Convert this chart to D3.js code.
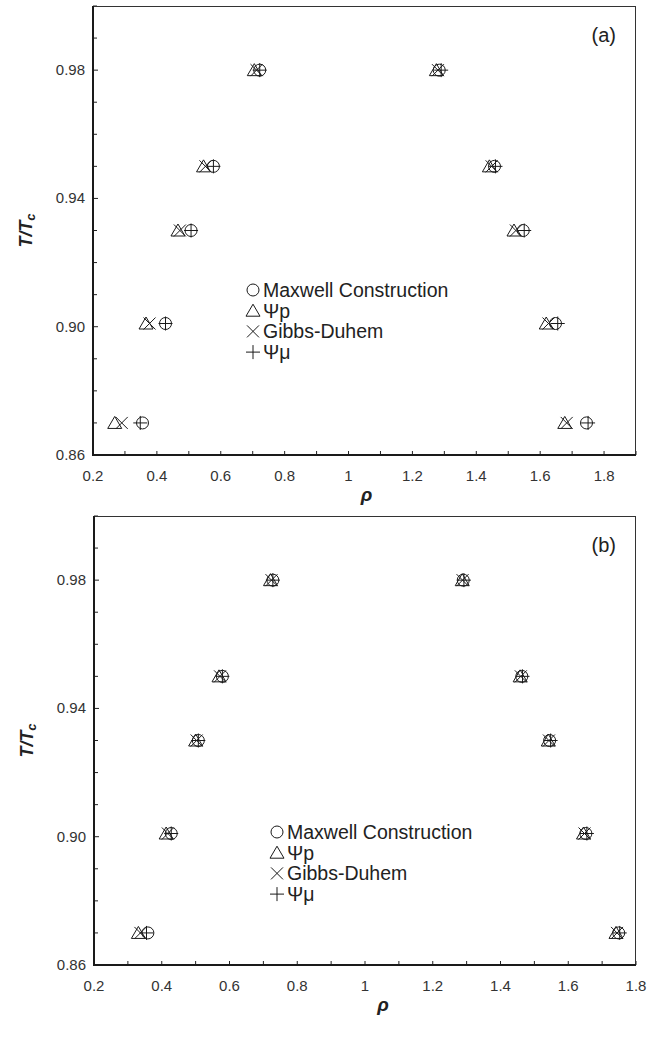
<!DOCTYPE html>
<html>
<head>
<meta charset="utf-8">
<script src="https://cdn.jsdelivr.net/npm/d3@7"></script>
<style>
  body { margin: 0; background: #fff; }
  svg { display: block; font-family: "Liberation Sans", Arial, sans-serif; }
  .tick-label { font-size: 15px; fill: #333; }
  .legend-text { font-size: 19.5px; fill: #222; }
</style>
</head>
<body>
<script>
// reduced temperatures (rows of points)
var tLevels = [0.87, 0.901, 0.93, 0.95, 0.98];

// panel (a): coexisting densities, gas branch (left) and liquid branch (right)
var maxwellA_gas = [0.355, 0.427, 0.507, 0.577, 0.722];
var maxwellA_liq = [1.745, 1.648, 1.547, 1.457, 1.284];
var psiRhoA_gas = [0.268, 0.366, 0.466, 0.546, 0.705];
var psiRhoA_liq = [1.677, 1.619, 1.518, 1.441, 1.275];
var gibbsA_gas = [0.290, 0.377, 0.472, 0.552, 0.712];
var gibbsA_liq = [1.683, 1.626, 1.524, 1.448, 1.280];
var psiMuA_gas = [0.348, 0.427, 0.507, 0.577, 0.722];
var psiMuA_liq = [1.750, 1.655, 1.550, 1.460, 1.290];

// panel (b)
var maxwellB_gas = [0.359, 0.428, 0.508, 0.579, 0.728];
var maxwellB_liq = [1.749, 1.652, 1.545, 1.463, 1.290];
var psiRhoB_gas = [0.331, 0.413, 0.500, 0.569, 0.721];
var psiRhoB_liq = [1.741, 1.645, 1.541, 1.458, 1.287];
var gibbsB_gas = [0.337, 0.418, 0.503, 0.572, 0.724];
var gibbsB_liq = [1.744, 1.648, 1.543, 1.460, 1.288];
var psiMuB_gas = [0.355, 0.428, 0.508, 0.579, 0.728];
var psiMuB_liq = [1.752, 1.655, 1.548, 1.465, 1.292];

// legend entries and axis ticks
var seriesNames = ["Maxwell Construction", "\u03A8p", "Gibbs-Duhem", "\u03A8\u03BC"];
var seriesShapes = ["circle", "triangle", "times", "plus"];
var yTickLabels = [0.86, 0.90, 0.94, 0.98];
var xTickLabels = [0.2, 0.4, 0.6, 0.8, 1, 1.2, 1.4, 1.6, 1.8];

var svg = d3.select("body").append("svg")
    .attr("width", 648)
    .attr("height", 1053);

// marker paths, centred on 0,0
function markerPath(shape) {
  var p = d3.path();
  if (shape == "circle") {
    p.moveTo(6, 0); p.arc(0, 0, 6, 0, 2 * Math.PI);
  } else if (shape == "triangle") {
    p.moveTo(0, -6.5); p.lineTo(7, 5.5); p.lineTo(-7, 5.5); p.closePath();
  } else if (shape == "times") {
    p.moveTo(-6, -6); p.lineTo(6, 6); p.moveTo(6, -6); p.lineTo(-6, 6);
  } else {
    p.moveTo(-7, 0); p.lineTo(7, 0); p.moveTo(0, -7); p.lineTo(0, 7);
  }
  return p.toString();
}

function drawPanel(cfg) {
  var width = cfg.width, height = cfg.height;
  var g = svg.append("g").attr("transform", "translate(" + cfg.left + "," + cfg.top + ")");

  var x = d3.scaleLinear().domain(cfg.xDomain).range([0, width]),
      y = d3.scaleLinear().domain([0.86, 1.0]).range([height, 0]);

  // x axis: inward ticks every 0.1
  var xMinor = d3.range(Math.round(cfg.xDomain[0] * 10), Math.round(cfg.xDomain[1] * 10) + 1).map(function(d) { return d / 10; });
  g.append("g")
      .attr("transform", "translate(0," + height + ")")
      .selectAll("line").data(xMinor).enter().append("line")
      .attr("x1", function(d) { return x(d); })
      .attr("x2", function(d) { return x(d); })
      .attr("y1", 0).attr("y2", -4)
      .attr("stroke", "#222").attr("stroke-width", 1);
  g.append("g").selectAll("text").data(xTickLabels).enter().append("text")
      .attr("class", "tick-label")
      .attr("x", function(d) { return x(d); })
      .attr("y", height + 26)
      .attr("text-anchor", "middle")
      .text(function(d) { return d; });

  // y axis: inward ticks every 0.01
  var yMinor = d3.range(86, 101).map(function(d) { return d / 100; });
  g.append("g").selectAll("line").data(yMinor).enter().append("line")
      .attr("x1", 0)
      .attr("x2", function(d) { return yTickLabels.indexOf(d) >= 0 ? 5 : 4; })
      .attr("y1", function(d) { return y(d); })
      .attr("y2", function(d) { return y(d); })
      .attr("stroke", "#222").attr("stroke-width", 1);
  g.append("g").selectAll("text").data(yTickLabels).enter().append("text")
      .attr("class", "tick-label")
      .attr("x", -8)
      .attr("y", function(d) { return y(d) + 5; })
      .attr("text-anchor", "end")
      .text(function(d) { return d3.format(".2f")(d); });

  // frame: heavier left and bottom
  g.append("line").attr("x1", 0).attr("x2", width).attr("y1", 0.5).attr("y2", 0.5)
      .attr("stroke", "#333").attr("stroke-width", 1);
  g.append("line").attr("x1", width - 0.5).attr("x2", width - 0.5).attr("y1", 0).attr("y2", height)
      .attr("stroke", "#333").attr("stroke-width", 1);
  g.append("line").attr("x1", 0).attr("x2", 0).attr("y1", 0).attr("y2", height + 1)
      .attr("stroke", "#1a1a1a").attr("stroke-width", 2);
  g.append("line").attr("x1", -1).attr("x2", width).attr("y1", height).attr("y2", height)
      .attr("stroke", "#1a1a1a").attr("stroke-width", 2);

  // axis titles
  var yt = svg.append("text")
      .attr("transform", "translate(" + (cfg.left - 61) + "," + (cfg.top + height / 2) + ") rotate(-90)")
      .attr("text-anchor", "middle")
      .attr("font-size", "18px").attr("font-weight", "bold").attr("font-style", "italic")
      .attr("fill", "#222");
  yt.append("tspan").text("T/T");
  yt.append("tspan").attr("font-size", "13px").attr("dy", 3).text("c");

  svg.append("text")
      .attr("x", cfg.left + x(1.0) + 18)
      .attr("y", cfg.top + height + 46)
      .attr("text-anchor", "middle")
      .attr("font-size", "19px").attr("font-weight", "bold").attr("font-style", "italic")
      .attr("fill", "#222")
      .text("\u03C1");

  // panel letter
  g.append("text")
      .attr("x", width - 20).attr("y", 36)
      .attr("text-anchor", "end")
      .attr("font-size", "20px").attr("fill", "#222")
      .text(cfg.letter);

  // data markers
  cfg.series.forEach(function(s, i) {
    var pts = [];
    tLevels.forEach(function(t, j) {
      pts.push({rho: s.gas[j], t: t});
      pts.push({rho: s.liq[j], t: t});
    });
    g.append("g").selectAll("path").data(pts).enter().append("path")
        .attr("d", markerPath(seriesShapes[i]))
        .attr("transform", function(d) { return "translate(" + x(d.rho) + "," + y(d.t) + ")"; })
        .attr("fill", "none")
        .attr("stroke", "#1a1a1a")
        .attr("stroke-width", 1);
  });

  // legend
  var lg = g.append("g").attr("transform", "translate(" + cfg.legendX + "," + cfg.legendY + ")");
  seriesNames.forEach(function(name, i) {
    lg.append("path")
        .attr("d", markerPath(seriesShapes[i]))
        .attr("transform", "translate(0," + (i * 20.7) + ")")
        .attr("fill", "none").attr("stroke", "#1a1a1a").attr("stroke-width", 1);
    lg.append("text")
        .attr("class", "legend-text")
        .attr("x", 10).attr("y", i * 20.7 + 7)
        .text(name);
  });
}

drawPanel({
  left: 93, top: 6, width: 543, height: 449,
  xDomain: [0.2, 1.9], letter: "(a)",
  legendX: 160, legendY: 284,
  series: [
    {gas: maxwellA_gas, liq: maxwellA_liq},
    {gas: psiRhoA_gas, liq: psiRhoA_liq},
    {gas: gibbsA_gas, liq: gibbsA_liq},
    {gas: psiMuA_gas, liq: psiMuA_liq}
  ]
});

drawPanel({
  left: 94, top: 516, width: 542, height: 449,
  xDomain: [0.2, 1.8], letter: "(b)",
  legendX: 183, legendY: 316,
  series: [
    {gas: maxwellB_gas, liq: maxwellB_liq},
    {gas: psiRhoB_gas, liq: psiRhoB_liq},
    {gas: gibbsB_gas, liq: gibbsB_liq},
    {gas: psiMuB_gas, liq: psiMuB_liq}
  ]
});
</script>
</body>
</html>
